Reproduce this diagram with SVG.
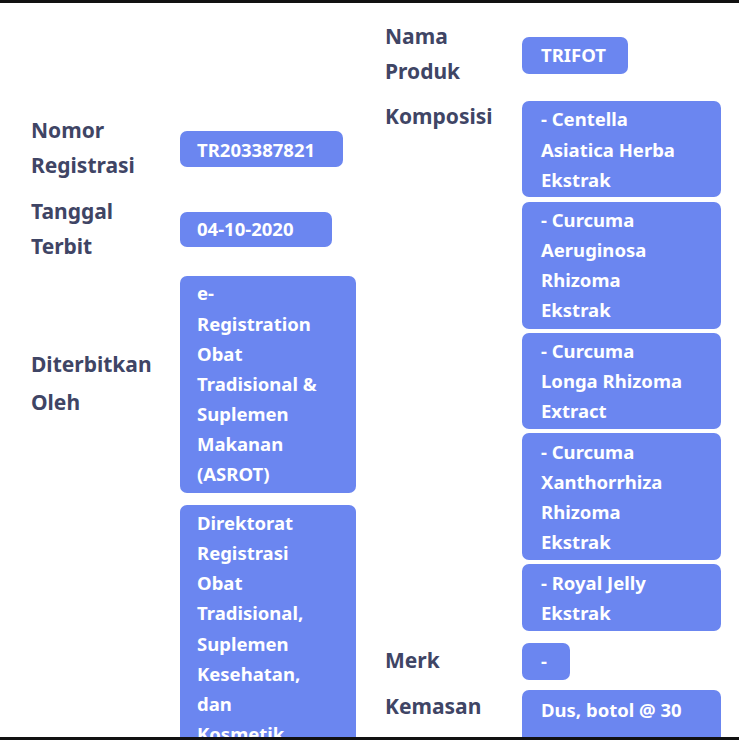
<svg xmlns="http://www.w3.org/2000/svg" width="739" height="740" viewBox="0 0 739 740">
<style>
.l{font-family:"Noto Sans","Open Sans",sans-serif;font-weight:bold;font-size:21px;fill:#3f4565}
.b{fill:#6b86f0}
.t{font-family:"Noto Sans","Open Sans",sans-serif;font-weight:bold;font-size:18.5px;fill:#ffffff}
</style>
<rect width="739" height="740" fill="#ffffff"/>
<rect width="739" height="3" fill="#111"/>
<g id="labels">
<text class="l" x="31" y="138">Nomor</text><text class="l" x="31" y="173">Registrasi</text>
<text class="l" x="31" y="219">Tanggal</text><text class="l" x="31" y="254">Terbit</text>
<text class="l" x="31" y="372">Diterbitkan</text><text class="l" x="31" y="410">Oleh</text>
<text class="l" x="385" y="44">Nama</text><text class="l" x="385" y="79">Produk</text>
<text class="l" x="385" y="124">Komposisi</text>
<text class="l" x="385" y="668">Merk</text>
<text class="l" x="385" y="714">Kemasan</text>
</g>
<g id="nomor"><rect class="b" x="180" y="131" width="163" height="36" rx="7"/><text class="t" x="197" y="157">TR203387821</text></g>
<g id="tanggal"><rect class="b" x="180" y="212" width="152" height="35" rx="7"/><text class="t" x="197" y="236">04-10-2020</text></g>
<g id="oleh1"><rect class="b" x="180" y="276" width="176" height="217" rx="7"/>
<text class="t" x="197" y="300">e-</text><text class="t" x="197" y="331">Registration</text><text class="t" x="197" y="361">Obat</text><text class="t" x="197" y="391">Tradisional &amp;</text><text class="t" x="197" y="421">Suplemen</text><text class="t" x="197" y="451">Makanan</text><text class="t" x="197" y="481">(ASROT)</text></g>
<g id="oleh2"><rect class="b" x="180" y="505" width="176" height="250" rx="7"/>
<text class="t" x="197" y="530">Direktorat</text><text class="t" x="197" y="560">Registrasi</text><text class="t" x="197" y="590">Obat</text><text class="t" x="197" y="620">Tradisional,</text><text class="t" x="197" y="651">Suplemen</text><text class="t" x="197" y="681">Kesehatan,</text><text class="t" x="197" y="711">dan</text><text class="t" x="197" y="741">Kosmetik</text></g>
<g id="produk"><rect class="b" x="522" y="37" width="106" height="37" rx="7"/><text class="t" x="541" y="62">TRIFOT</text></g>
<g id="k1"><rect class="b" x="522" y="101" width="199" height="96" rx="7"/><text class="t" x="541" y="126">- Centella</text><text class="t" x="541" y="157">Asiatica Herba</text><text class="t" x="541" y="187">Ekstrak</text></g>
<g id="k2"><rect class="b" x="522" y="202" width="199" height="127" rx="7"/><text class="t" x="541" y="227">- Curcuma</text><text class="t" x="541" y="257">Aeruginosa</text><text class="t" x="541" y="287">Rhizoma</text><text class="t" x="541" y="317">Ekstrak</text></g>
<g id="k3"><rect class="b" x="522" y="333" width="199" height="96" rx="7"/><text class="t" x="541" y="358">- Curcuma</text><text class="t" x="541" y="388">Longa Rhizoma</text><text class="t" x="541" y="418">Extract</text></g>
<g id="k4"><rect class="b" x="522" y="433" width="199" height="127" rx="7"/><text class="t" x="541" y="459">- Curcuma</text><text class="t" x="541" y="489">Xanthorrhiza</text><text class="t" x="541" y="519">Rhizoma</text><text class="t" x="541" y="549">Ekstrak</text></g>
<g id="k5"><rect class="b" x="522" y="564" width="199" height="67" rx="7"/><text class="t" x="541" y="590">- Royal Jelly</text><text class="t" x="541" y="620">Ekstrak</text></g>
<g id="merk"><rect class="b" x="522" y="643" width="48" height="37" rx="7"/><text class="t" x="541" y="668">-</text></g>
<g id="kemasan"><rect class="b" x="522" y="690" width="199" height="70" rx="7"/><text class="t" x="541" y="717">Dus, botol @ 30</text></g>
<g id="connectors"></g>
<rect y="737" width="739" height="3" fill="#111"/>
</svg>
